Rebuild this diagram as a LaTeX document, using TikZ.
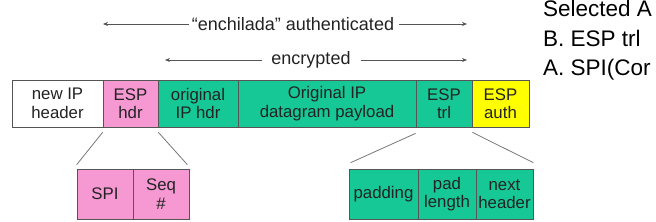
\documentclass[tikz,border=0pt]{standalone}
\usepackage{fontspec}
\setmainfont{Liberation Sans}
\usetikzlibrary{arrows.meta}
\definecolor{pk}{RGB}{246,152,210}
\definecolor{gr}{RGB}{22,200,150}
\definecolor{yl}{RGB}{255,255,0}
\definecolor{ln}{RGB}{85,85,85}
\definecolor{tx}{RGB}{35,35,35}
\begin{document}
\begin{tikzpicture}[x=1pt,y=-1pt,
  field/.style={draw=ln, line width=0.7pt, minimum height=47pt, inner sep=0pt,
    align=center, font=\fontsize{16.8}{18.5}\selectfont, text=tx},
  sub/.style={field, minimum height=50pt},
  conn/.style={draw=ln!80, line width=0.8pt},
  arr/.style={draw=ln, line width=0.7pt, -{Stealth[length=5pt,width=4pt]}},
  lbl/.style={font=\fontsize{18}{20}\selectfont, text=tx, inner sep=0pt},
  side/.style={anchor=base west, font=\fontsize{22.5}{25}\selectfont, inner sep=0pt}]
\useasboundingbox (0,0) rectangle (656,222);
\clip (0,0) rectangle (656,222);
% main row
\node[field, fill=white, minimum width=91pt] (newip) at (57.5,103.5) {new IP\\header};
\node[field, fill=pk, minimum width=55pt] (esph) at (130.5,103.5) {ESP\\hdr};
\node[field, fill=gr, minimum width=80pt] (origh) at (198,103.5) {original\\IP hdr};
\node[field, fill=gr, minimum width=178pt] (pay) at (327,103.5) {Original IP\\datagram payload};
\node[field, fill=gr, minimum width=56pt] (trl) at (444,103.5) {ESP\\trl};
\node[field, fill=yl, minimum width=57pt] (auth) at (500.5,103.5) {ESP\\auth};
% lower left
\node[sub, fill=pk, minimum width=56pt] (spi) at (105,194) {SPI};
\node[sub, fill=pk, minimum width=56pt] (seq) at (161,194) {Seq\\\#};
% lower right
\node[sub, fill=gr, minimum width=69pt] (pad) at (383.5,194) {padding};
\node[sub, fill=gr, minimum width=58pt] (padl) at (447,194) {pad\\length};
\node[sub, fill=gr, minimum width=57pt] (nxt) at (504.5,194) {next\\header};
% expansion lines
\draw[conn] ([yshift=-5pt]esph.south west) -- ([yshift=4pt]spi.north west);
\draw[conn] ([yshift=-5pt]esph.south east) -- ([xshift=-2pt,yshift=4pt]seq.north east);
\draw[conn] ([yshift=-6pt]trl.south west) -- ([xshift=2pt,yshift=6pt]pad.north west);
\draw[conn] ([yshift=-5pt]trl.south east) -- ([yshift=6pt]nxt.north east);
% arrows
\node[lbl] (ench) at (293,24) {“enchilada” authenticated};
\coordinate (enchL) at (103,24);
\coordinate (enchR) at (467,24);
\draw[arr] ([xshift=-3pt]ench.west) -- (enchL);
\draw[arr] ([xshift=5pt]ench.east) -- (enchR);
\node[lbl] (enc) at (311,60) {encrypted};
\coordinate (encL) at (165,60);
\coordinate (encR) at (467,60);
\draw[arr] ([xshift=-9pt]enc.west) -- (encL);
\draw[arr] ([xshift=10pt]enc.east) -- (encR);
% side text
\node[side] (s1) at (543,17) {Selected A};
\node[side] (s2) at (543,47) {B. ESP trl};
\node[side] (s3) at (543,76) {A. SPI(Cor};
\end{tikzpicture}
\end{document}
